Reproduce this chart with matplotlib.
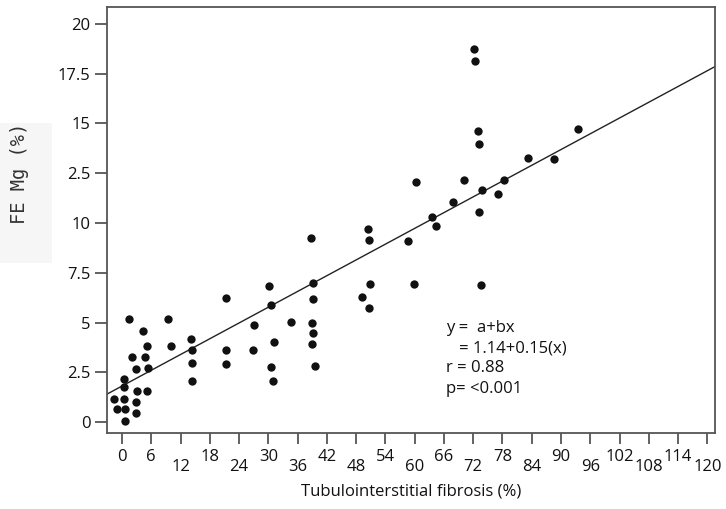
# coding=utf-8
import numpy as np
import matplotlib.pyplot as plt

# fibrosis (%) vs FE Mg (%)
fibrosis = [1.4, 9.4, 4.4, 5.1, 10.0, 14.2, 14.3, 14.3, 14.3, 2.0, 4.7, 2.9,
            5.3, 0.4, 0.5, 3.0, 5.1, -1.6, 0.5, 2.8, -1.1, 0.7, 2.8, 0.6,
            21.3, 30.2, 30.5, 21.3, 21.3, 27.1, 34.7, 26.8, 31.2, 30.6, 31.0,
            38.8, 39.1, 39.1, 38.9, 39.1, 39.0, 39.6,
            50.5, 50.7, 58.6, 60.3, 63.6, 64.3, 50.8, 59.9, 49.3, 50.7, 67.9,
            70.1, 72.2, 72.3, 72.9, 73.1, 73.8, 73.2, 73.5, 77.1, 78.4, 83.2,
            88.6, 93.4]
fe_mg = [5.16, 5.19, 4.57, 3.82, 3.82, 4.19, 3.62, 2.95, 2.06, 3.28, 3.28, 2.68,
         2.71, 2.15, 1.77, 1.54, 1.57, 1.17, 1.17, 1.01, 0.64, 0.67, 0.47, 0.07,
         6.22, 6.85, 5.88, 3.62, 2.90, 4.87, 5.04, 3.62, 4.00, 2.76, 2.06,
         9.23, 6.97, 6.18, 4.96, 4.46, 3.92, 2.83,
         9.71, 9.15, 9.10, 12.04, 10.32, 9.85, 6.95, 6.92, 6.28, 5.73, 11.07,
         12.15, 18.74, 18.16, 14.62, 13.98, 11.65, 10.55, 6.87, 11.47, 12.15, 13.27,
         13.24, 14.72]

# regression line as drawn in the figure
fit_intercept = 1.81
fit_slope = 0.132

x_ticks = list(range(0, 121, 6))
y_ticks = [0, 2.5, 5, 7.5, 10, 12.5, 15, 17.5, 20]
y_ticklabels = ['0', '2.5', '5', '7.5', '10', '2.5', '15', '17.5', '20']

stats_lines = ['y =  a+bx', '   = 1.14+0.15(x)', 'r = 0.88', 'p= <0.001']

plt.rcParams['font.family'] = ['Open Sans', 'DejaVu Sans']
fig = plt.figure(figsize=(7.26, 5.09), dpi=100)
ax = fig.add_axes([0.1474, 0.1493, 0.8376, 0.8369])

ax.scatter(fibrosis, fe_mg, s=36, color='#111111', zorder=3, linewidths=0)

xlim = (-3.08, 121.6)
line_x = np.array(xlim)
ax.plot(line_x, fit_intercept + fit_slope * line_x, color='#222222', lw=1.0, zorder=2)

ax.set_xlim(*xlim)
ax.set_ylim(-0.55, 20.85)

for sp in ax.spines.values():
    sp.set_color('#555555')
    sp.set_linewidth(1.3)

ax.set_yticks(y_ticks)
ax.set_yticklabels(y_ticklabels)
ax.tick_params(axis='y', direction='out', length=8.5, width=1.3, color='#555555',
               pad=3.5, labelsize=12, labelcolor='#111111')

ax.set_xticks(x_ticks)
ax.set_xticklabels([str(v) for v in x_ticks])
ax.tick_params(axis='x', direction='out', length=8, width=1.3, color='#555555',
               labelsize=12, labelcolor='#111111')
# staggered labels: 12, 24, 36 ... sit lower
for i, t in enumerate(ax.xaxis.get_major_ticks()):
    if i % 2 == 0 and i > 0:
        t.set_pad(10.5)
    else:
        t.set_pad(3.5)

ax.set_xlabel('Tubulointerstitial fibrosis (%)', fontsize=12, color='#111111', labelpad=6)

# y label drawn in its own little gray box like the original
fig.patches.append(plt.Rectangle((0, 1 - 263 / 509), 52 / 726, 140 / 509,
                                 transform=fig.transFigure, facecolor='#f6f6f6',
                                 edgecolor='none', zorder=0))
fig.text(20 / 726, 1 - 173 / 509, 'FE Mg (%)', rotation=90, ha='center', va='center',
         fontsize=13.5, family='DejaVu Sans Mono', color='#333333')

# stats annotation
stats_y = [4.72, 3.72, 2.71, 1.66]
for txt, yy in zip(stats_lines, stats_y):
    ax.text(66.4, yy, txt, fontsize=12, color='#111111', va='center', ha='left')

fig.savefig('out.png', dpi=100)
